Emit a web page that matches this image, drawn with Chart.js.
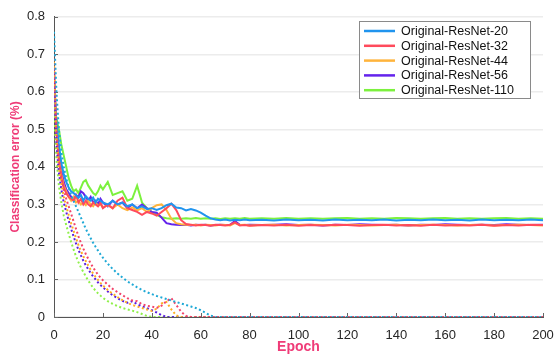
<!DOCTYPE html>
<html>
<head>
<meta charset="utf-8">
<script src="https://cdn.jsdelivr.net/npm/chart.js@4.4.1/dist/chart.umd.min.js"></script>
<style>
  html, body { margin: 0; padding: 0; background: #fff; overflow: hidden; }
  #wrap { width: 555px; height: 354px; overflow: hidden; position: relative; }
  #grafico { position: absolute; left: 0; top: 0; }
</style>
</head>
<body>
<div id="wrap">
  <canvas id="grafico" width="575" height="354"></canvas>
</div>
<script>
// epocas muestreadas (cada 1 al principio, luego cada 2 y cada 5)
const epocas = [
  0, 1, 2, 3, 4, 5, 6, 7, 8, 9, 10, 11, 12, 13, 14, 15, 16, 17, 18, 19, 20,
  22, 24, 26, 28, 30, 32, 34, 36, 38, 40, 42, 44, 46, 48, 50, 52, 54, 56, 58, 60, 62, 64, 66, 68, 70, 72, 74, 76, 78, 80,
  85, 90, 95, 100, 105, 110, 115, 120, 125, 130, 135, 140, 145, 150, 155, 160, 165, 170, 175, 180, 185, 190, 195, 200
];

const nombres = ['Original-ResNet-20', 'Original-ResNet-32', 'Original-ResNet-44', 'Original-ResNet-56', 'Original-ResNet-110'];

// error de entrenamiento (linea punteada)
const entrena20 = [
  0.76, 0.60, 0.50, 0.44, 0.40, 0.37, 0.345, 0.325, 0.31, 0.295, 0.28, 0.265, 0.25, 0.235, 0.222, 0.21, 0.198, 0.187, 0.177, 0.167, 0.158,
  0.142, 0.128, 0.116, 0.105, 0.095, 0.087, 0.079, 0.072, 0.066, 0.061, 0.056, 0.052, 0.048, 0.044, 0.04, 0.036, 0.032, 0.028, 0.024, 0.018, 0.011, 0.004, 0, 0, 0, 0, 0, 0, 0, 0,
  0, 0, 0, 0, 0, 0, 0, 0, 0, 0, 0, 0, 0, 0, 0, 0, 0, 0, 0, 0, 0, 0, 0, 0
];
const entrena32 = [
  0.70, 0.50, 0.42, 0.375, 0.34, 0.315, 0.295, 0.275, 0.255, 0.235, 0.215, 0.198, 0.182, 0.168, 0.155, 0.143, 0.132, 0.122, 0.113, 0.105, 0.098,
  0.086, 0.075, 0.066, 0.058, 0.05, 0.044, 0.042, 0.034, 0.03, 0.028, 0.024, 0.03, 0.042, 0.05, 0.032, 0.014, 0.003, 0, 0, 0, 0, 0, 0, 0, 0, 0, 0, 0, 0, 0,
  0, 0, 0, 0, 0, 0, 0, 0, 0, 0, 0, 0, 0, 0, 0, 0, 0, 0, 0, 0, 0, 0, 0, 0
];
const entrena44 = [
  0.68, 0.48, 0.40, 0.355, 0.32, 0.295, 0.272, 0.25, 0.23, 0.21, 0.192, 0.176, 0.162, 0.149, 0.137, 0.126, 0.116, 0.107, 0.099, 0.091, 0.084,
  0.072, 0.062, 0.053, 0.045, 0.038, 0.032, 0.028, 0.024, 0.02, 0.016, 0.022, 0.036, 0.04, 0.02, 0.004, 0, 0, 0, 0, 0, 0, 0, 0, 0, 0, 0, 0, 0, 0, 0,
  0, 0, 0, 0, 0, 0, 0, 0, 0, 0, 0, 0, 0, 0, 0, 0, 0, 0, 0, 0, 0, 0, 0, 0
];
const entrena56 = [
  0.66, 0.46, 0.385, 0.34, 0.305, 0.28, 0.257, 0.235, 0.215, 0.196, 0.179, 0.164, 0.15, 0.138, 0.127, 0.117, 0.108, 0.1, 0.092, 0.085, 0.079,
  0.068, 0.058, 0.05, 0.043, 0.038, 0.042, 0.034, 0.028, 0.024, 0.018, 0.012, 0.005, 0, 0, 0, 0, 0, 0, 0, 0, 0, 0, 0, 0, 0, 0, 0, 0, 0, 0,
  0, 0, 0, 0, 0, 0, 0, 0, 0, 0, 0, 0, 0, 0, 0, 0, 0, 0, 0, 0, 0, 0, 0, 0
];
const entrena110 = [
  0.56, 0.42, 0.35, 0.305, 0.27, 0.245, 0.222, 0.2, 0.18, 0.162, 0.146, 0.132, 0.12, 0.108, 0.097, 0.087, 0.078, 0.07, 0.063, 0.057, 0.051,
  0.042, 0.035, 0.029, 0.024, 0.02, 0.017, 0.013, 0.008, 0.003, 0, 0, 0, 0, 0, 0, 0, 0, 0, 0, 0, 0, 0, 0, 0, 0, 0, 0, 0, 0, 0,
  0, 0, 0, 0, 0, 0, 0, 0, 0, 0, 0, 0, 0, 0, 0, 0, 0, 0, 0, 0, 0, 0, 0, 0
];

// error de prueba (linea continua)
const prueba20 = [
  0.62, 0.52, 0.46, 0.41, 0.38, 0.36, 0.345, 0.335, 0.33, 0.325, 0.318, 0.325, 0.31, 0.322, 0.315, 0.31, 0.318, 0.305, 0.315, 0.31, 0.305,
  0.3, 0.31, 0.3, 0.305, 0.295, 0.3, 0.29, 0.295, 0.288, 0.29, 0.285, 0.29, 0.298, 0.302, 0.292, 0.29, 0.284, 0.288, 0.284, 0.278, 0.27, 0.263, 0.26, 0.258, 0.26, 0.257, 0.259, 0.258, 0.26, 0.258,
  0.259, 0.257, 0.26, 0.258, 0.259, 0.257, 0.26, 0.258, 0.259, 0.258, 0.26, 0.257, 0.259, 0.258, 0.26, 0.258, 0.259, 0.257, 0.26, 0.258, 0.259, 0.258, 0.26, 0.258
];
const prueba32 = [
  0.66, 0.5, 0.42, 0.37, 0.345, 0.33, 0.32, 0.315, 0.31, 0.325, 0.305, 0.315, 0.3, 0.31, 0.3, 0.295, 0.305, 0.3, 0.295, 0.305, 0.29,
  0.3, 0.29, 0.31, 0.318, 0.29, 0.285, 0.28, 0.272, 0.28, 0.276, 0.27, 0.28, 0.29, 0.302, 0.285, 0.258, 0.248, 0.246, 0.244, 0.246, 0.245, 0.243, 0.246, 0.245, 0.244, 0.246, 0.252, 0.244, 0.245, 0.243,
  0.245, 0.244, 0.246, 0.243, 0.245, 0.244, 0.246, 0.245, 0.243, 0.245, 0.246, 0.244, 0.245, 0.243, 0.246, 0.244, 0.245, 0.244, 0.246, 0.243, 0.245, 0.244, 0.246, 0.245
];
const prueba44 = [
  0.62, 0.5, 0.43, 0.38, 0.35, 0.335, 0.32, 0.31, 0.32, 0.305, 0.31, 0.3, 0.305, 0.298, 0.31, 0.3, 0.295, 0.305, 0.296, 0.3, 0.292,
  0.298, 0.29, 0.3, 0.29, 0.285, 0.292, 0.284, 0.29, 0.28, 0.29, 0.298, 0.3, 0.285, 0.262, 0.25, 0.247, 0.246, 0.245, 0.246, 0.244, 0.246, 0.245, 0.244, 0.246, 0.245, 0.244, 0.25, 0.245, 0.246, 0.244,
  0.245, 0.246, 0.244, 0.245, 0.246, 0.245, 0.244, 0.246, 0.245, 0.244, 0.245, 0.246, 0.244, 0.245, 0.246, 0.245, 0.244, 0.245, 0.246, 0.244, 0.245, 0.246, 0.245, 0.244
];
const prueba56 = [
  0.6, 0.5, 0.44, 0.39, 0.36, 0.34, 0.33, 0.32, 0.31, 0.325, 0.32, 0.335, 0.33, 0.32, 0.31, 0.32, 0.305, 0.31, 0.3, 0.315, 0.305,
  0.295, 0.31, 0.3, 0.305, 0.29, 0.3, 0.29, 0.3, 0.29, 0.28, 0.278, 0.265, 0.25, 0.247, 0.246, 0.245, 0.246, 0.244, 0.246, 0.245, 0.246, 0.244, 0.245, 0.246, 0.245, 0.246, 0.256, 0.246, 0.245, 0.246,
  0.245, 0.246, 0.247, 0.245, 0.246, 0.244, 0.246, 0.245, 0.247, 0.246, 0.245, 0.246, 0.244, 0.246, 0.245, 0.247, 0.246, 0.245, 0.246, 0.245, 0.247, 0.246, 0.245, 0.246
];
const prueba110 = [
  0.56, 0.53, 0.5, 0.46, 0.43, 0.4, 0.37, 0.35, 0.335, 0.34, 0.33, 0.345, 0.36, 0.365, 0.35, 0.34, 0.33, 0.325, 0.335, 0.35, 0.34,
  0.36, 0.325, 0.33, 0.335, 0.31, 0.315, 0.35, 0.305, 0.29, 0.28, 0.272, 0.266, 0.263, 0.262, 0.263, 0.262, 0.263, 0.262, 0.264, 0.262, 0.263, 0.262, 0.263, 0.261, 0.263, 0.262, 0.263, 0.262, 0.264, 0.262,
  0.263, 0.262, 0.264, 0.262, 0.263, 0.262, 0.263, 0.264, 0.262, 0.263, 0.262, 0.264, 0.263, 0.262, 0.263, 0.264, 0.262, 0.263, 0.262, 0.263, 0.264, 0.262, 0.263, 0.262
];

const ticksX = [0, 20, 40, 60, 80, 100, 120, 140, 160, 180, 200];
const ticksY = [0, 0.1, 0.2, 0.3, 0.4, 0.5, 0.6, 0.7, 0.8];

const coloresPrueba = ['#2094ee', '#ff4a5c', '#ffb43c', '#6423ec', '#7cf13e'];
const coloresEntrena = ['#1fa9d6', '#f2436a', '#ffae22', '#5a1ee0', '#8ff04a'];

const rosa = '#ef3c78';
const fuente = "'Liberation Sans', Arial, sans-serif";

function puntos(valores) {
  return epocas.map((e, i) => ({ x: e, y: valores[i] }));
}

const entrenamiento = [entrena20, entrena32, entrena44, entrena56, entrena110];
const pruebas = [prueba20, prueba32, prueba44, prueba56, prueba110];

let conjuntos = [];
entrenamiento.forEach((serie, i) => {
  conjuntos.push({
    label: nombres[i] + ' (train)',
    data: puntos(serie),
    borderColor: coloresEntrena[i],
    borderWidth: 2,
    borderDash: [2, 2.5],
    pointRadius: 0,
    enLeyenda: false
  });
});
pruebas.forEach((serie, i) => {
  conjuntos.push({
    label: nombres[i],
    data: puntos(serie),
    borderColor: coloresPrueba[i],
    borderWidth: 2,
    pointRadius: 0,
    enLeyenda: true
  });
});

// marcas cortas hacia adentro sobre los ejes
const marcasEjes = {
  id: 'marcasEjes',
  beforeDatasetsDraw(chart) {
    const { ctx, chartArea, scales } = chart;
    ctx.save();
    ctx.strokeStyle = '#666';
    ctx.lineWidth = 1;
    ctx.beginPath();
    scales.x.ticks.forEach(t => {
      const px = Math.round(scales.x.getPixelForValue(t.value)) + 0.5;
      ctx.moveTo(px, chartArea.bottom);
      ctx.lineTo(px, chartArea.bottom - 4);
    });
    scales.y.ticks.forEach(t => {
      const py = Math.round(scales.y.getPixelForValue(t.value)) + 0.5;
      ctx.moveTo(chartArea.left, py);
      ctx.lineTo(chartArea.left + 4, py);
    });
    ctx.stroke();
    ctx.restore();
  }
};

// leyenda con recuadro gris, solo para las curvas de prueba
const leyendaCaja = {
  id: 'leyendaCaja',
  afterDraw(chart) {
    const ctx = chart.ctx;
    const x0 = 359.5, y0 = 21.5, ancho = 171, alto = 77;
    ctx.save();
    ctx.fillStyle = '#fff';
    ctx.fillRect(x0, y0, ancho, alto);
    ctx.strokeStyle = '#8a8a8a';
    ctx.lineWidth = 1;
    ctx.strokeRect(x0, y0, ancho, alto);
    ctx.font = '12.5px ' + fuente;
    ctx.textBaseline = 'middle';
    ctx.fillStyle = '#111';
    let fila = 0;
    chart.data.datasets.forEach(ds => {
      if (!ds.enLeyenda) return;
      const y = 31 + fila * 14.8;
      ctx.strokeStyle = ds.borderColor;
      ctx.lineWidth = 2.5;
      ctx.beginPath();
      ctx.moveTo(364, y);
      ctx.lineTo(395, y);
      ctx.stroke();
      ctx.fillText(ds.label, 401, y + 0.5);
      fila++;
    });
    ctx.restore();
  }
};

new Chart('grafico', {
  type: 'line',
  data: { datasets: conjuntos },
  options: {
    responsive: false,
    animation: false,
    layout: { padding: { left: 0, top: 10, right: 32, bottom: 0 } },
    plugins: {
      legend: { display: false },
      tooltip: { enabled: false }
    },
    elements: { line: { tension: 0 } },
    scales: {
      x: {
        type: 'linear',
        min: 0,
        max: 200,
        afterBuildTicks: escala => { escala.ticks = ticksX.map(v => ({ value: v })); },
        afterFit: escala => { escala.height = 37; },
        grid: { display: false },
        border: { display: true, color: '#555', width: 1 },
        ticks: { padding: 3, color: '#262626', font: { family: fuente, size: 13 } },
        title: {
          display: true,
          text: 'Epoch',
          color: rosa,
          padding: { top: 0, bottom: -2 },
          font: { family: fuente, size: 14, weight: 'bold' }
        }
      },
      y: {
        min: 0,
        max: 0.8,
        afterBuildTicks: escala => { escala.ticks = ticksY.map(v => ({ value: v })); },
        afterFit: escala => { escala.width = 54; },
        grid: { color: '#ececec', lineWidth: 1.5, drawTicks: false },
        border: { display: true, color: '#555', width: 1 },
        ticks: {
          padding: 9,
          color: '#262626',
          font: { family: fuente, size: 13 },
          callback: v => String(Math.round(v * 10) / 10)
        },
        title: {
          display: true,
          text: 'Classification error (%)',
          color: rosa,
          padding: { top: 8, bottom: 0 },
          font: { family: fuente, size: 12, weight: 'bold' }
        }
      }
    }
  },
  plugins: [marcasEjes, leyendaCaja]
});
</script>
</body>
</html>
